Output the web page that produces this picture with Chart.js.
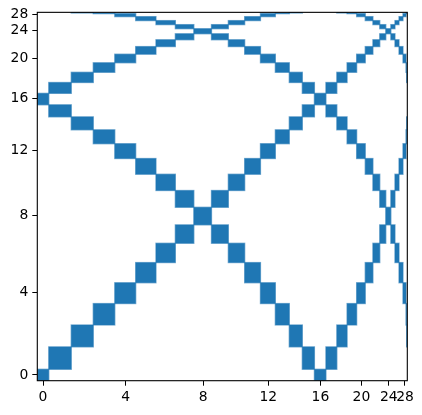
<!DOCTYPE html>
<html>
<head>
<meta charset="utf-8">
<script src="https://cdn.jsdelivr.net/npm/chart.js@4.4.0/dist/chart.umd.min.js"></script>
<style>
  html, body { margin: 0; padding: 0; background: #fff; }
</style>
</head>
<body>
<canvas id="gridChart" width="422" height="415"></canvas>
<script>
// columns of the grid and, for each column, the rows that are filled
const columns = [0, 1, 2, 3, 4, 5, 6, 7, 8, 9, 10, 11, 12, 13, 14, 15,
                 16, 17, 18, 19, 20, 21, 22, 23, 24, 25, 26, 27, 28, 29, 30];
const filledRows = [
    [0, 16], [1, 15, 17], [2, 14, 18, 30], [3, 13, 19, 29],
    [4, 12, 20, 28], [5, 11, 21, 27], [6, 10, 22, 26], [7, 9, 23, 25],
    [8, 24], [7, 9, 23, 25], [6, 10, 22, 26], [5, 11, 21, 27],
    [4, 12, 20, 28], [3, 13, 19, 29], [2, 14, 18, 30], [1, 15, 17],
    [0, 16], [1, 15, 17], [2, 14, 18, 30], [3, 13, 19, 29],
    [4, 12, 20, 28], [5, 11, 21, 27], [6, 10, 22, 26], [7, 9, 23, 25],
    [8, 24], [7, 9, 23, 25], [6, 10, 22, 26], [5, 11, 21, 27],
    [4, 12, 20, 28], [3, 13, 19, 29], [2, 14, 18, 30]
];
const tickVals = [0, 4, 8, 12, 16, 20, 24, 28];

// non-uniform axis: value -> fraction of the axis length (same on x and y)
const knotVal  = [-0.5, 0, 0.5, 2, 4, 6, 8, 10, 12, 14, 16, 18, 20, 22, 24, 26, 28, 28.5, 30.5];
const knotFrac = [0, .0155, .031, .1222, .2385, .3481, .448, .5391, .6245, .6999,
                  .7653, .8243, .876, .9174, .950, .9722, .9937, .9965, 1];

function interp(v, xs, ys) {
    if (v <= xs[0]) return ys[0] + (v - xs[0]) * (ys[1] - ys[0]) / (xs[1] - xs[0]);
    const n = xs.length;
    if (v >= xs[n - 1]) return ys[n - 1] + (v - xs[n - 1]) * (ys[n - 1] - ys[n - 2]) / (xs[n - 1] - xs[n - 2]);
    let i = 0;
    while (v > xs[i + 1]) i++;
    const t = (v - xs[i]) / (xs[i + 1] - xs[i]);
    return ys[i] + t * (ys[i + 1] - ys[i]);
}

class KnotScale extends Chart.LinearScale {
    static id = 'knot';
    static defaults = Chart.LinearScale.defaults;
    getPixelForValue(value) {
        return this.getPixelForDecimal(interp(value, knotVal, knotFrac));
    }
    getValueForPixel(pixel) {
        return interp(this.getDecimalForPixel(pixel), knotFrac, knotVal);
    }
}
Chart.register(KnotScale);

const points = [];
columns.forEach((c, i) => {
    filledRows[i].forEach(r => points.push({ x: c, y: r }));
});

const cellPlugin = {
    id: 'cells',
    afterDatasetsDraw(chart) {
        const { ctx, chartArea: a, scales: { x, y } } = chart;
        ctx.save();
        ctx.beginPath();
        ctx.rect(a.left, a.top, a.right - a.left, a.bottom - a.top);
        ctx.clip();
        ctx.fillStyle = '#1f77b4';
        ctx.strokeStyle = 'rgba(31,119,180,0.6)';
        ctx.lineWidth = 1.3;
        chart.data.datasets[0].data.forEach(p => {
            const x0 = x.getPixelForValue(p.x - 0.5);
            const x1 = x.getPixelForValue(p.x + 0.5);
            const y0 = y.getPixelForValue(p.y + 0.5);
            const y1 = y.getPixelForValue(p.y - 0.5);
            ctx.fillRect(x0, y0, x1 - x0, y1 - y0);
            ctx.strokeRect(x0, y0, x1 - x0, y1 - y0);
        });
        ctx.restore();
        ctx.save();
        ctx.strokeStyle = '#000';
        ctx.lineWidth = 1.1;
        ctx.strokeRect(a.left, a.top, a.right - a.left, a.bottom - a.top);
        ctx.restore();
    }
};

function axisOpts(isX) {
    return {
        type: 'knot',
        min: -0.5,
        max: 30.5,
        afterBuildTicks: s => { s.ticks = tickVals.map(v => ({ value: v })); },
        afterFit: s => {
            if (isX) s.height = 34.3; else s.width = 37.3;
        },
        border: { display: false },
        grid: {
            drawOnChartArea: false,
            drawTicks: true,
            tickLength: 5,
            tickColor: '#000',
            lineWidth: 1
        },
        ticks: {
            autoSkip: false,
            maxRotation: 0,
            padding: isX ? 3 : 4,
            color: '#000',
            font: { family: 'DejaVu Sans', size: 13.9 },
            callback: v => String(v)
        }
    };
}

new Chart(document.getElementById('gridChart'), {
    type: 'scatter',
    data: {
        datasets: [{
            data: points,
            pointRadius: 0,
            pointHoverRadius: 0
        }]
    },
    options: {
        responsive: false,
        animation: false,
        layout: { padding: { top: 12.3, right: 14.7, left: 0, bottom: 0 } },
        plugins: { legend: { display: false }, tooltip: { enabled: false } },
        scales: { x: axisOpts(true), y: axisOpts(false) }
    },
    plugins: [cellPlugin]
});
</script>
</body>
</html>
